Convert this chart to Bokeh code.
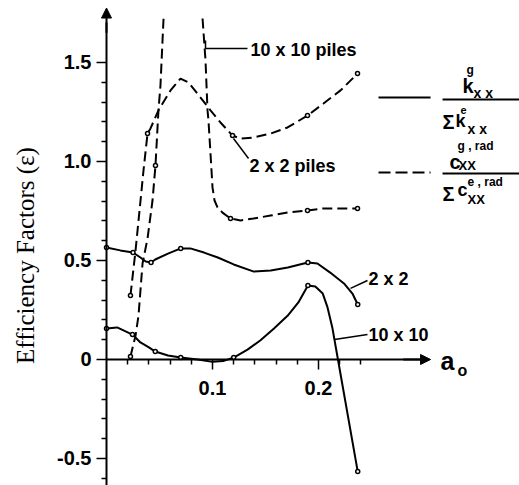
import math
from bokeh.plotting import figure
from bokeh.models import LinearAxis, FixedTicker, Range1d, Label, Arrow, NormalHead
from bokeh.embed import file_html
from bokeh.resources import INLINE

nan = float("nan")

# ---- data ----
a0_2x2 = [0.0, 0.013, 0.025, 0.032, 0.037, 0.042, 0.046, 0.058, 0.070, 0.079, 0.092,
          0.105, 0.12, 0.139, 0.155, 0.171, 0.19, 0.199, 0.211, 0.224, 0.232, 0.237]
eff_2x2 = [0.566, 0.551, 0.54, 0.515, 0.495, 0.49, 0.505, 0.535, 0.561, 0.561, 0.54,
           0.515, 0.48, 0.444, 0.449, 0.465, 0.49, 0.485, 0.439, 0.384, 0.333, 0.278]
mk_2x2 = [0, 2, 5, 8, 16, 21]

a0_10x10 = [0.0, 0.010, 0.0245, 0.032, 0.040, 0.046, 0.058, 0.070, 0.086, 0.100, 0.110,
            0.120, 0.133, 0.145, 0.158, 0.171, 0.181, 0.190, 0.197, 0.204, 0.2085, 0.213,
            0.218, 0.237]
eff_10x10 = [0.157, 0.162, 0.126, 0.086, 0.061, 0.040, 0.020, 0.010, 0.0, -0.012, -0.008,
             0.010, 0.050, 0.096, 0.157, 0.222, 0.288, 0.374, 0.369, 0.333, 0.263, 0.162,
             0.01, -0.566]
mk_10x10 = [0, 2, 5, 7, 11, 17, 23]

a0_2x2_piles = [0.0226, 0.0274, 0.0321, 0.0349, 0.0387, 0.0415, 0.049, 0.0604, 0.0698,
                0.0774, 0.0887, 0.0981, 0.1075, 0.1189, 0.1264, 0.1387, 0.1547, 0.1708,
                0.1896, 0.2047, 0.2208, 0.2368]
eff_2x2_piles = [0.323, 0.551, 0.803, 0.955, 1.141, 1.167, 1.258, 1.359, 1.419, 1.399,
                 1.323, 1.258, 1.197, 1.131, 1.116, 1.121, 1.141, 1.172, 1.232, 1.293,
                 1.359, 1.444]
mk_2x2_piles = [0, 4, 13, 18, 21]

a0_10x10_piles = [0.0226, 0.0274, 0.0302, 0.034, 0.0387, 0.0434, 0.0462, 0.049, 0.0509,
                  0.0538, nan, 0.0906, 0.0934, 0.0953, 0.0962, 0.0981, 0.1, 0.1019, 0.1047,
                  0.1094, 0.117, 0.1264, 0.1387, 0.1547, 0.1708, 0.1896, 0.2047, 0.2208,
                  0.2368]
eff_10x10_piles = [0.015, 0.121, 0.222, 0.485, 0.611, 0.803, 0.98, 1.258, 1.384, 1.722,
                   nan, 1.722, 1.51, 1.258, 1.207, 1.04, 0.869, 0.803, 0.768, 0.742, 0.712,
                   0.702, 0.712, 0.727, 0.742, 0.753, 0.763, 0.763, 0.763]
mk_10x10_piles = [0, 6, 20, 25, 28]

y_major = [-0.5, 0.0, 0.5, 1.0, 1.5]
y_major_labels = ["-0.5", "0", "0.5", "1.0", "1.5"]
y_minor = [-0.6, -0.4, -0.3, -0.2, -0.1, 0.1, 0.2, 0.3, 0.4, 0.6, 0.7, 0.8, 0.9,
           1.1, 1.2, 1.3, 1.4]
x_major = [0.1, 0.2]
x_major_labels = ["0.1", "0.2"]
x_minor = [0.02, 0.04, 0.06, 0.08, 0.12, 0.14, 0.16, 0.18, 0.22, 0.24]

SANS = "Liberation Sans"

p = figure(width=519, height=485, min_border=0, output_backend="svg",
           toolbar_location=None, x_axis_type=None, y_axis_type=None,
           x_range=Range1d(-0.1, 0.3896), y_range=Range1d(-0.6364, 1.8131))
p.outline_line_color = None
p.background_fill_color = "white"
p.border_fill_color = "white"


def style_axis(ax, standoff):
    ax.axis_line_width = 2
    ax.major_tick_out = 10
    ax.major_tick_in = 0
    ax.minor_tick_out = 5
    ax.minor_tick_in = 0
    ax.major_tick_line_width = 1.5
    ax.minor_tick_line_width = 1.5
    ax.major_label_standoff = standoff
    ax.major_label_text_font = SANS
    ax.major_label_text_font_style = "bold"
    ax.major_label_text_font_size = "20px"
    ax.major_label_text_color = "black"


# y axis at a0 = 0
yax = LinearAxis(ticker=FixedTicker(ticks=y_major, minor_ticks=y_minor), fixed_location=0)
yax.major_label_overrides = {t: s for t, s in zip(y_major, y_major_labels)}
yax.bounds = (-0.64, 1.7)
style_axis(yax, 5)
p.add_layout(yax, "left")

# x axis at value 0
xax = LinearAxis(ticker=FixedTicker(ticks=x_major, minor_ticks=x_minor), fixed_location=0)
xax.major_label_overrides = {t: s for t, s in zip(x_major, x_major_labels)}
xax.bounds = (0, 0.3)
style_axis(xax, 12)
p.add_layout(xax, "below")

# axis arrows
p.add_layout(Arrow(end=NormalHead(size=10, fill_color="black", line_color="black"),
                   x_start=0, y_start=1.65, x_end=0, y_end=1.775, line_width=2))
p.add_layout(Arrow(end=NormalHead(size=10, fill_color="black", line_color="black"),
                   x_start=0.28, y_start=0, x_end=0.3057, y_end=0, line_width=2))

# curves
p.line(a0_2x2, eff_2x2, line_width=2, color="black")
p.line(a0_10x10, eff_10x10, line_width=2, color="black")
p.line(a0_2x2_piles, eff_2x2_piles, line_width=2, color="black", line_dash="10 5")
p.line(a0_10x10_piles, eff_10x10_piles, line_width=2, color="black", line_dash="10 5")

for xs, ys, idx in [(a0_2x2, eff_2x2, mk_2x2), (a0_10x10, eff_10x10, mk_10x10),
                    (a0_2x2_piles, eff_2x2_piles, mk_2x2_piles),
                    (a0_10x10_piles, eff_10x10_piles, mk_10x10_piles)]:
    p.scatter([xs[i] for i in idx], [ys[i] for i in idx], size=4, marker="circle",
              fill_color="white", line_color="black", line_width=1.5)

# leader lines
p.line([0.0934, 0.0934, 0.133], [1.611, 1.571, 1.571], line_width=1.5, color="black")
p.line([0.1198, 0.134], [1.116, 1.015], line_width=1.5, color="black")
p.line([0.2302, 0.2462], [0.359, 0.399], line_width=1.5, color="black")
p.line([0.2151, 0.2462], [0.101, 0.126], line_width=1.5, color="black")


def lab(x, y, text, size, bold=True, align="left", baseline="middle", font=SANS, angle=0):
    p.add_layout(Label(x=x, y=y, text=text, text_font=font, text_font_size=size,
                       text_font_style="bold" if bold else "normal", text_align=align,
                       text_baseline=baseline, angle=angle, text_color="black"))


lab(0.1358, 1.561, "10 x 10 piles", "18px")
lab(0.1349, 0.975, "2 x 2 piles", "18px")
lab(0.2472, 0.409, "2 x 2", "18px")
lab(0.2472, 0.126, "10 x 10", "18px")
lab(0.3151, -0.01, "a", "25px")
lab(0.3311, -0.055, "o", "16px")
lab(-0.0764, 0.525, "Efficiency Factors (\u03b5)", "25px", bold=False, align="center",
    font="Liberation Serif", angle=math.pi / 2)

# legend
p.line([0.2566, 0.3057], [1.323, 1.323], line_width=2, color="black")
p.line([0.2566, 0.3057], [0.944, 0.944], line_width=2, color="black", line_dash="12 5")
p.line([0.317, 0.395], [1.313, 1.313], line_width=2, color="black")
p.line([0.317, 0.395], [0.939, 0.939], line_width=2, color="black")
# k^g_xx / Σ k^e_xx
lab(0.3358, 1.382, "k", "20px")
lab(0.3396, 1.462, "g", "12px")
lab(0.3462, 1.348, "x x", "14px")
lab(0.317, 1.197, "\u03a3", "20px")
lab(0.3292, 1.205, "k", "18px")
lab(0.3340, 1.258, "e", "11px")
lab(0.3406, 1.162, "x x", "14px")
# c^{g,rad}_xx / Σ c^{e,rad}_xx
lab(0.3236, 0.995, "c", "20px")
lab(0.3311, 1.076, "g , rad", "12px")
lab(0.3321, 0.98, "XX", "13px")
lab(0.317, 0.838, "\u03a3", "20px")
lab(0.3311, 0.854, "c", "18px")
lab(0.3406, 0.894, "e , rad", "12px")
lab(0.3406, 0.808, "XX", "13px")

open("out.html", "w").write(file_html(p, INLINE))
